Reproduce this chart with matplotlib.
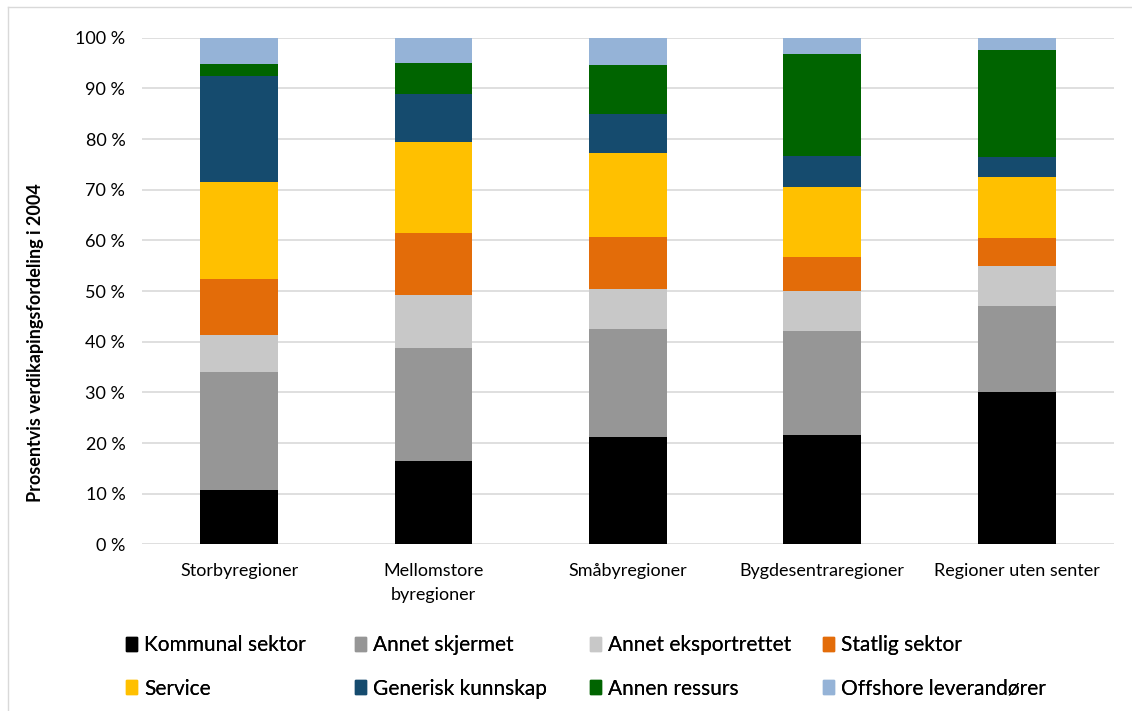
import matplotlib
matplotlib.use("Agg")
import matplotlib.pyplot as plt
from matplotlib.patches import Patch
from matplotlib.lines import Line2D
import numpy as np

plt.rcParams['font.family'] = ['Lato', 'DejaVu Sans']

# regions on the x axis
regions = ["Storbyregioner", "Mellomstore\nbyregioner", "Småbyregioner",
           "Bygdesentraregioner", "Regioner uten senter"]

# share of value creation per sector (percent), bottom to top
kommunal = [10.7, 16.4, 21.2, 21.7, 30.0]
skjermet = [23.4, 22.3, 21.3, 20.4, 17.1]
eksport = [7.2, 10.6, 8.0, 8.0, 7.8]
statlig = [11.1, 12.1, 10.2, 6.6, 5.6]
service = [19.1, 18.0, 16.6, 13.8, 12.1]
generisk = [21.0, 9.4, 7.7, 6.2, 3.9]
ressurs = [2.3, 6.2, 9.7, 20.0, 21.1]
offshore = [5.2, 5.0, 5.3, 3.3, 2.4]

series = [kommunal, skjermet, eksport, statlig, service, generisk, ressurs, offshore]
names = ["Kommunal sektor", "Annet skjermet", "Annet eksportrettet", "Statlig sektor",
         "Service", "Generisk kunnskap", "Annen ressurs", "Offshore leverandører"]
colors = ["#000000", "#969696", "#c8c8c8", "#e36c09",
          "#ffc000", "#154b6e", "#006400", "#95b3d7"]

fig = plt.figure(figsize=(11.32, 7.11), dpi=100)
ax = fig.add_axes([0.1254, 0.2342, 0.8586, 0.7128])

x = np.arange(len(regions))
bottom = np.zeros(len(regions))
for vals, c in zip(series, colors):
    ax.bar(x, vals, width=0.4, bottom=bottom, color=c, zorder=3)
    bottom += np.array(vals)

ax.set_xlim(-0.5, 4.5)
ax.set_ylim(0, 100)
ax.set_yticks(range(0, 101, 10))
ax.set_yticklabels([f"{v} %" for v in range(0, 101, 10)], fontsize=13)
ax.set_xticks(x)
ax.set_xticklabels(regions, fontsize=13, linespacing=1.65)
ax.tick_params(axis='both', length=0, colors='#000000')
ax.tick_params(axis='y', pad=12)
ax.tick_params(axis='x', pad=13)
ax.grid(axis='y', color='#d9d9d9', linewidth=1.2, zorder=0)
for s in ax.spines.values():
    s.set_visible(False)

fig.text(0.031, 0.518, "Prosentvis verdikapingsfordeling i 2004", rotation=90,
         fontsize=13, fontweight='bold', ha='center', va='center')

# chart area frame (only top and left edges are inside the picture)
fig.add_artist(Line2D([8 / 1132, 1], [1 - 7 / 711, 1 - 7 / 711], color='#d9d9d9', lw=1))
fig.add_artist(Line2D([8 / 1132, 8 / 1132], [0, 1 - 7 / 711], color='#d9d9d9', lw=1))

# legend: four columns placed by hand, two rows each
col_x = [126 / 1132, 355 / 1132, 590 / 1132, 823 / 1132]
for i, cx in enumerate(col_x):
    handles = [Patch(color=colors[i]), Patch(color=colors[i + 4])]
    leg = fig.legend(handles, [names[i], names[i + 4]], loc='upper left',
                     bbox_to_anchor=(cx, 0.107), bbox_transform=fig.transFigure,
                     frameon=False, fontsize=15, handlelength=0.53, handleheight=0.67,
                     handletextpad=0.34, labelspacing=1.14, borderpad=0, borderaxespad=0)
    fig.add_artist(leg)

fig.savefig("out.png", dpi=100)
